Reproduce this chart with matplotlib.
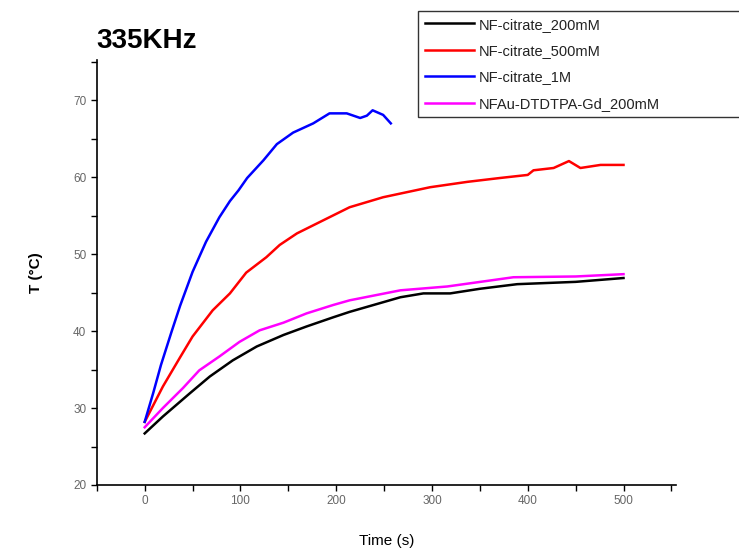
import matplotlib
matplotlib.use("Agg")
import matplotlib.pyplot as plt
from matplotlib.ticker import MultipleLocator

plt.rcParams["font.family"] = ["Liberation Sans", "DejaVu Sans"]

# NF-citrate_200mM (black)
t_200 = [0, 19, 47, 68, 92, 117, 145, 169, 197, 214, 267, 291, 319, 350, 389, 450, 500]
T_200 = [26.7, 28.9, 31.9, 34.1, 36.2, 38.0, 39.5, 40.6, 41.8, 42.5, 44.4, 44.9, 44.9, 45.5, 46.1, 46.4, 46.9]

# NF-citrate_500mM (red)
t_500 = [0, 19, 37, 50, 71, 89, 106, 127, 141, 159, 180, 214, 249, 298, 337, 371, 400, 406, 427, 443, 455, 476, 500]
T_500 = [28.2, 32.8, 36.6, 39.3, 42.7, 44.9, 47.6, 49.6, 51.2, 52.7, 54.0, 56.1, 57.4, 58.7, 59.4, 59.9, 60.3, 60.9, 61.2, 62.1, 61.2, 61.6, 61.6]

# NF-citrate_1M (blue)
t_1M = [0, 9, 17, 28, 37, 50, 64, 78, 89, 98, 107, 124, 138, 155, 176, 193, 211, 225, 232, 238, 249, 257]
T_1M = [28.2, 32.0, 35.6, 39.9, 43.3, 47.7, 51.6, 54.8, 56.9, 58.3, 59.9, 62.2, 64.3, 65.8, 67.0, 68.3, 68.3, 67.7, 68.0, 68.7, 68.1, 67.0]

# NFAu-DTDTPA-Gd_200mM (magenta)
t_gd = [0, 19, 40, 57, 78, 99, 120, 145, 169, 197, 214, 267, 316, 385, 450, 500]
T_gd = [27.5, 30.0, 32.6, 34.9, 36.7, 38.6, 40.1, 41.1, 42.3, 43.4, 44.0, 45.3, 45.8, 47.0, 47.1, 47.4]

fig = plt.figure(figsize=(7.39, 5.48), dpi=100)
ax = fig.add_axes([0.131, 0.115, 0.784, 0.775])

ax.plot(t_200, T_200, color="black", lw=1.8, label="NF-citrate_200mM")
ax.plot(t_500, T_500, color="#ff0000", lw=1.8, label="NF-citrate_500mM")
ax.plot(t_1M, T_1M, color="#0000ff", lw=1.8, label="NF-citrate_1M")
ax.plot(t_gd, T_gd, color="#ff00ff", lw=1.8, label="NFAu-DTDTPA-Gd_200mM")

ax.set_xlim(-50, 555)
ax.set_ylim(20, 75.2)
ax.xaxis.set_major_locator(MultipleLocator(100))
ax.xaxis.set_minor_locator(MultipleLocator(50))
ax.yaxis.set_major_locator(MultipleLocator(10))
ax.yaxis.set_minor_locator(MultipleLocator(5))
ax.tick_params(which="both", direction="out", length=4, width=1, colors="black",
               labelcolor="#666666", labelsize=8.5)
ax.set_xticks([0, 100, 200, 300, 400, 500])

for s in ["top", "right"]:
    ax.spines[s].set_visible(False)
for s in ["left", "bottom"]:
    ax.spines[s].set_linewidth(1.2)

ax.set_xlabel("Time (s)", fontsize=11, labelpad=19)
ax.set_ylabel("T (°C)", fontsize=11, fontweight="bold", labelpad=22)

fig.text(0.131, 0.925, "335KHz", fontsize=20, fontweight="bold", ha="left", va="center")

leg = ax.legend(loc="upper left", bbox_to_anchor=(418 / 739, 1 - 11 / 548, 0.5, 0.0),
                bbox_transform=fig.transFigure, mode="expand", frameon=True,
                fancybox=False, edgecolor="black", fontsize=10.5, handlelength=3.4,
                handletextpad=0.3, labelspacing=0.85, borderaxespad=0, borderpad=0.45)
leg.get_frame().set_linewidth(1.0)
for txt in leg.get_texts():
    txt.set_color("#222222")

fig.savefig("out.png", dpi=100)
